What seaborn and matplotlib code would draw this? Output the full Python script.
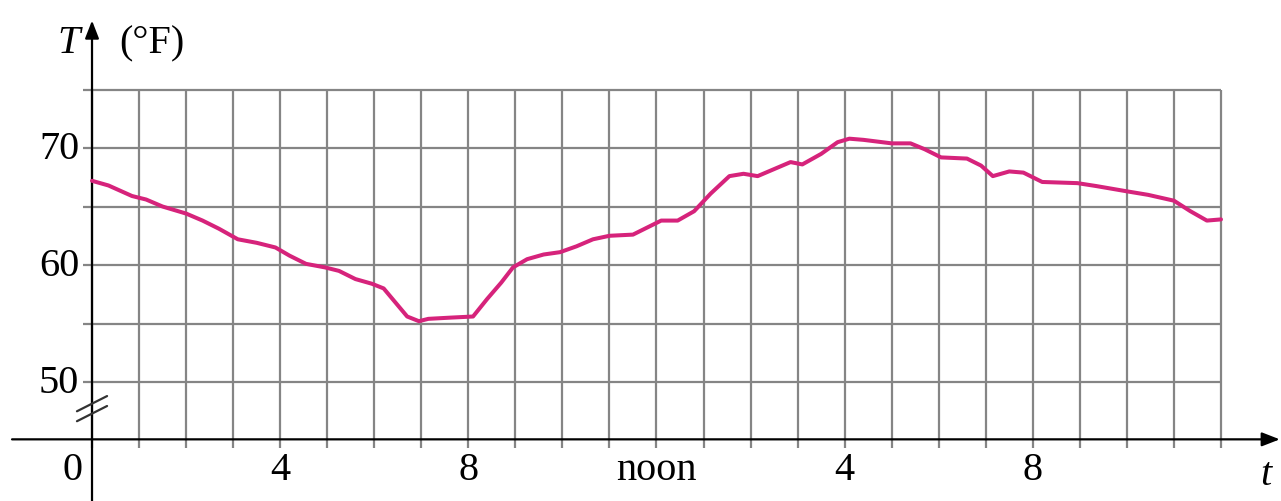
import matplotlib
matplotlib.use("Agg")
import matplotlib.pyplot as plt
import seaborn as sns

# ── Data ──────────────────────────────────────────────────────────────────────
hours = [0.0, 0.35, 0.85, 1.15, 1.5, 2.0, 2.35, 2.7, 3.1, 3.5, 3.9, 4.2, 4.55,
         4.95, 5.25, 5.6, 5.95, 6.2, 6.45, 6.7, 6.95, 7.15, 7.6, 8.1, 8.4, 8.7,
         8.95, 9.25, 9.6, 9.95, 10.3, 10.65, 11.0, 11.5, 11.8, 12.1, 12.45,
         12.8, 13.15, 13.55, 13.85, 14.15, 14.5, 14.85, 15.1, 15.5, 15.85,
         16.1, 16.4, 17.0, 17.4, 17.7, 18.05, 18.6, 18.9, 19.15, 19.5, 19.8,
         20.2, 20.95, 21.35, 22.0, 22.45, 23.0, 23.35, 23.7, 24.0]
temps = [67.2, 66.8, 65.9, 65.6, 65.0, 64.4, 63.8, 63.1, 62.2, 61.9, 61.5,
         60.8, 60.1, 59.8, 59.5, 58.8, 58.4, 58.0, 56.8, 55.6, 55.2, 55.4,
         55.5, 55.6, 57.1, 58.5, 59.8, 60.5, 60.9, 61.1, 61.6, 62.2, 62.5,
         62.6, 63.2, 63.8, 63.8, 64.6, 66.1, 67.6, 67.8, 67.6, 68.2, 68.8,
         68.6, 69.5, 70.5, 70.8, 70.7, 70.4, 70.4, 69.9, 69.2, 69.1, 68.5,
         67.6, 68.0, 67.9, 67.1, 67.0, 66.75, 66.3, 66.0, 65.5, 64.6, 63.8,
         63.9]

grid_hours = list(range(0, 25))
grid_temps = [50, 55, 60, 65, 70, 75]
ytick_vals = [50, 60, 70]
xtick_vals = [4, 8, 12, 16, 20]
xtick_labels = ["4", "8", "noon", "4", "8"]

# ── Style ─────────────────────────────────────────────────────────────────────
sns.set_theme(style="white")
plt.rcParams["font.family"] = ["Liberation Serif", "DejaVu Serif"]
plt.rcParams["text.color"] = "black"

CURVE = "#d6237b"
GRID = "#858585"
FS = 29
AXIS_Y = 45.1   # where the t-axis crosses (below the break)

fig = plt.figure(figsize=(12.81, 5.02), dpi=100)
ax = fig.add_axes([0, 0, 1, 1])
ax.set_xlim(-1.956, 25.276)
ax.set_ylim(39.83, 82.74)
ax.axis("off")

# grid
ax.vlines(grid_hours, AXIS_Y - 0.7, 75, color=GRID, lw=1.6, zorder=1)
ax.hlines(grid_temps, -0.2, 24, color=GRID, lw=1.6, zorder=1)

# axes with arrows
ax.annotate("", xy=(25.25, AXIS_Y), xytext=(-1.7, AXIS_Y),
            arrowprops=dict(arrowstyle="-|>,head_length=0.9,head_width=0.35",
                            color="black", lw=1.6, shrinkA=0, shrinkB=0))
ax.annotate("", xy=(0, 80.9), xytext=(0, 39.83),
            arrowprops=dict(arrowstyle="-|>,head_length=0.9,head_width=0.35",
                            color="black", lw=1.6, shrinkA=0, shrinkB=0))

# axis break marks
for off in [0.0, -0.85]:
    ax.plot([-0.32, 0.32], [47.5 + off, 48.8 + off], color="#333333", lw=1.6,
            zorder=3)

# temperature curve
sns.lineplot(x=hours, y=temps, ax=ax, color=CURVE, lw=2.9, zorder=4,
             solid_joinstyle="round", solid_capstyle="round")

# labels
for v in ytick_vals:
    ax.text(-0.27, v, str(v), ha="right", va="center", fontsize=FS)
ax.text(-0.42, AXIS_Y - 2.6, "0", ha="center", va="center", fontsize=FS)
for v, lab in zip(xtick_vals, xtick_labels):
    ax.text(v, AXIS_Y - 2.6, lab, ha="center", va="center", fontsize=FS)
ax.text(24.95, AXIS_Y - 3.0, "t", ha="center", va="center", fontsize=FS,
        style="italic")
ax.text(-0.5, 79.0, "T", ha="center", va="center", fontsize=FS,
        style="italic")
ax.text(1.27, 79.0, "(°F)", ha="center", va="center", fontsize=FS)

fig.savefig("out.png", dpi=100)
